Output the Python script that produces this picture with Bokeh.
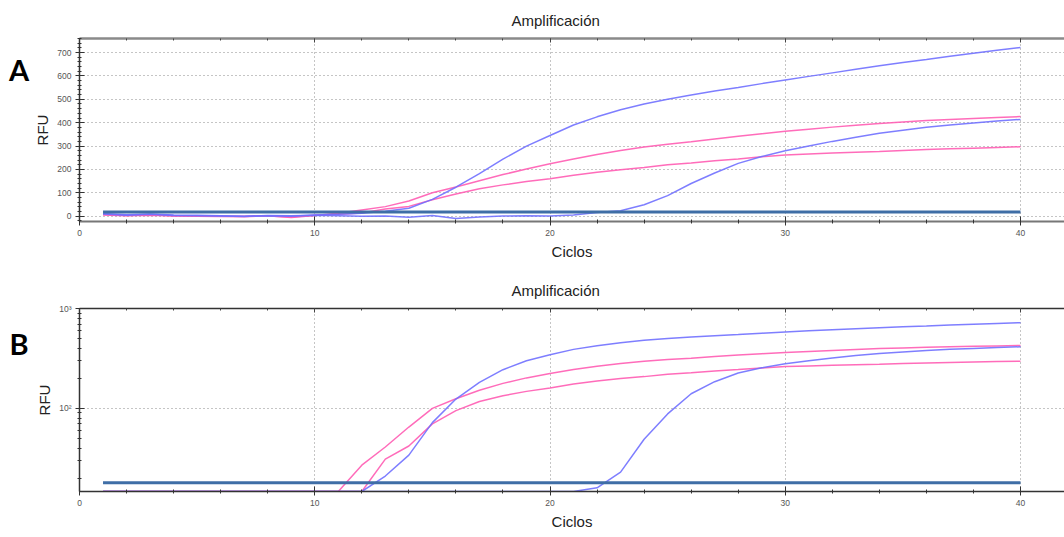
from bokeh.plotting import figure
from bokeh.layouts import column, row
from bokeh.models import Range1d, LinearAxis, FixedTicker, CustomJSTickFormatter
from bokeh.core.properties import value
from bokeh.embed import file_html
from bokeh.resources import INLINE
import numpy as np

cycles = list(range(1, 41))
blue_early = [10, 4, 8, 3, 2, 1, -1, 2, 0, 5, 8, 13, 21, 34, 72, 124, 182, 244, 300, 345,
              390, 425, 455, 480, 500, 518, 535, 550, 567, 583, 598, 613, 628, 643, 657, 670, 684, 697, 710, 722]
blue_late = [12, 6, 10, 5, 4, 2, 0, 3, 2, 4, 2, 0, 1, -4, 3, -10, -3, 1, 2, 1,
             5, 16, 23, 49, 88, 140, 185, 226, 255, 280, 300, 320, 338, 355, 368, 380, 390, 399, 407, 414]
pink_high = [8, 3, 6, 2, 1, 0, -2, 2, -6, 3, 13, 27, 41, 65, 100, 125, 152, 178, 202, 224,
             245, 264, 281, 296, 308, 318, 330, 342, 353, 363, 372, 381, 389, 397, 403, 409, 414, 418, 422, 426]
pink_low = [5, 2, 4, 1, 0, -1, 0, 1, -3, 4, 8, 14, 31, 42, 70, 95, 117, 134, 148, 160,
            175, 188, 199, 208, 220, 228, 237, 245, 254, 262, 266, 270, 274, 277, 281, 285, 288, 291, 294, 297]
threshold = 18

title_text = "Amplificación"
x_label = "Ciclos"
y_label = "RFU"
panel_letters = ["A", "B"]

BLUE = "#7070ff"
PINK = "#ff5cb2"
THR = "#3f6ea6"
series = [(pink_low, PINK), (pink_high, PINK), (blue_late, BLUE), (blue_early, BLUE)]

X_END = 41.87
LEFT_W = 30
TOP = 38


def letter_fig(letter, height, bottom_border, y_center):
    frame_bottom = height - bottom_border
    f = figure(width=LEFT_W, height=height, x_range=Range1d(0, LEFT_W),
               y_range=Range1d(frame_bottom, TOP),
               output_backend="svg", toolbar_location=None, min_border_left=0, min_border_right=0,
               min_border_top=TOP, min_border_bottom=bottom_border)
    f.axis.visible = False
    f.grid.visible = False
    f.outline_line_color = None
    f.text(x=[18.5], y=[y_center], text=[letter], text_font=value("Lato"), text_font_style="bold",
           text_font_size="29px", text_align="center", text_baseline="middle", text_color="black")
    return f


def style(p):
    p.outline_line_color = None
    p.background_fill_color = "white"
    p.border_fill_color = "white"
    p.title.text_font = "Liberation Sans"
    p.title.text_font_size = "15px"
    p.title.text_font_style = "normal"
    p.title.text_color = "#222222"
    p.title.align = "left"
    p.title.offset = 432
    p.title.standoff = 19
    for ax in p.xaxis + p.yaxis:
        ax.major_label_text_font = "Liberation Sans"
        ax.major_label_text_font_size = "8.5px"
        ax.major_label_text_color = "#555555"
        ax.axis_label_text_font = "Liberation Sans"
        ax.axis_label_text_font_size = "15px"
        ax.axis_label_text_font_style = "normal"
        ax.axis_label_text_color = "#222222"
        ax.major_tick_in = 5
        ax.major_tick_out = 4
        ax.minor_tick_in = 2
        ax.minor_tick_out = 2
        ax.major_tick_line_color = "#333333"
        ax.minor_tick_line_color = "#333333"
    p.xaxis.ticker = FixedTicker(ticks=[0, 10, 20, 30, 40], minor_ticks=list(range(0, 42, 2)))
    p.xaxis.axis_label = x_label
    p.xaxis.axis_label_standoff = 4
    p.xaxis.major_label_standoff = 4
    p.xaxis.axis_line_color = "#777777"
    p.xaxis.axis_line_width = 2
    p.yaxis.axis_label = y_label
    p.yaxis.axis_label_standoff = 3
    p.yaxis.major_label_standoff = 4
    p.yaxis.axis_line_color = "#333333"
    p.yaxis.axis_line_width = 1.5
    p.xgrid.ticker = FixedTicker(ticks=[10, 20, 30, 40])
    for g in (p.xgrid, p.ygrid):
        g.grid_line_color = "#8a8a8a"
        g.grid_line_dash = "1 3"
        g.grid_line_width = 1
    top = LinearAxis(ticker=FixedTicker(ticks=[0, 10, 20, 30, 40], minor_ticks=list(range(0, 42, 2))),
                     formatter=CustomJSTickFormatter(code="return '';"),
                     major_label_standoff=0, axis_line_color="#8a8a8a", axis_line_width=2.5,
                     major_tick_in=4, major_tick_out=0, minor_tick_in=2, minor_tick_out=0,
                     major_tick_line_color="#444444", minor_tick_line_color="#444444")
    p.add_layout(top, "above")


# ---------- Panel A (linear) ----------
pa = figure(width=1064 - LEFT_W, height=270, x_range=Range1d(0, X_END), y_range=Range1d(-22.6, 760),
            output_backend="svg", toolbar_location=None, title=title_text,
            min_border_left=79 - LEFT_W, min_border_right=0, min_border_top=TOP, min_border_bottom=49)
style(pa)
pa.yaxis.ticker = FixedTicker(ticks=list(range(0, 800, 100)), minor_ticks=list(range(-20, 761, 20)))
pa.ygrid.ticker = FixedTicker(ticks=list(range(0, 800, 100)))
for vals, col in series:
    pa.line(cycles, vals, line_color=col, line_width=1.5, line_alpha=0.9)
pa.line([cycles[0], cycles[-1]], [threshold, threshold], line_color=THR, line_width=3)

# ---------- Panel B (log) ----------
Y_MIN = 14.7
pb = figure(width=1064 - LEFT_W, height=267, x_range=Range1d(0, X_END), y_range=Range1d(Y_MIN, 1001),
            y_axis_type="log", output_backend="svg", toolbar_location=None, title=title_text,
            min_border_left=79 - LEFT_W, min_border_right=0, min_border_top=TOP, min_border_bottom=46)
style(pb)
minor_log = [v for v in range(20, 100, 10)] + [v for v in range(200, 1000, 100)]
pb.yaxis.ticker = FixedTicker(ticks=[100, 1000], minor_ticks=minor_log)
pb.yaxis.formatter = CustomJSTickFormatter(code="return tick > 500 ? '10\u00b3' : '10\u00b2';")
pb.ygrid.ticker = FixedTicker(ticks=[100])
pb.xaxis.axis_line_color = "#333333"
pb.xaxis.axis_line_width = 1.5
for vals, col in series:
    pb.line(cycles, list(np.maximum(np.array(vals, dtype=float), Y_MIN)), line_color=col,
            line_width=1.5, line_alpha=0.9)
pb.line([cycles[0], cycles[-1]], [threshold, threshold], line_color=THR, line_width=3)

la = letter_fig(panel_letters[0], 270, 49, 69)
lb = letter_fig(panel_letters[1], 267, 46, 343 - 270)

layout = column(row(la, pa, spacing=0), row(lb, pb, spacing=0), spacing=0)
open("out.html", "w").write(file_html(layout, INLINE))
